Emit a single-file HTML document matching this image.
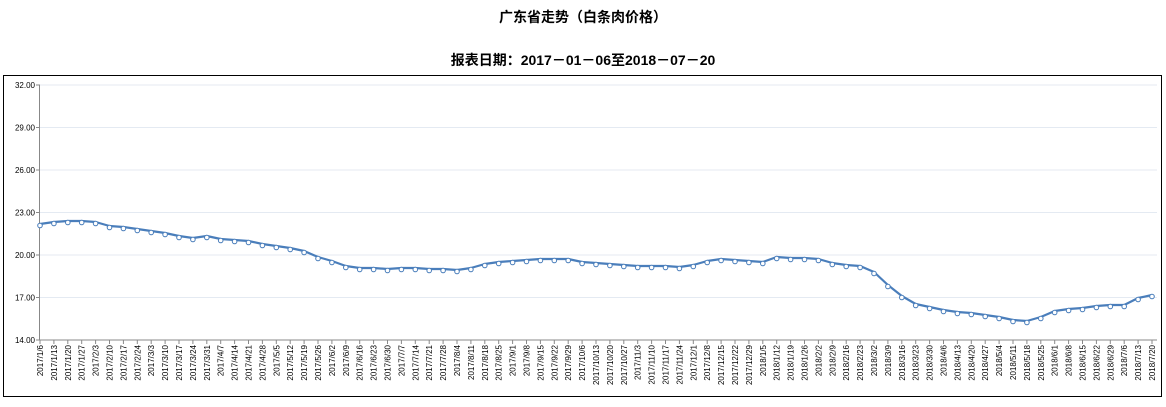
<!DOCTYPE html>
<html><head><meta charset="utf-8"><style>
body{margin:0;background:#fff;width:1166px;height:402px;overflow:hidden;font-family:"Liberation Sans","Noto Sans CJK SC",sans-serif}
</style></head><body>
<svg width="1166" height="402" xmlns="http://www.w3.org/2000/svg" id="s">
<text x="583" y="22" text-anchor="middle" font-size="14" font-weight="bold" font-family="Liberation Sans,Noto Sans CJK SC,sans-serif">广东省走势（白条肉价格）</text>
<text x="583" y="65" text-anchor="middle" font-size="14" font-weight="bold" font-family="Liberation Sans,Noto Sans CJK SC,sans-serif">报表日期：2017－01－06至2018－07－20</text>
<rect x="3.5" y="75.5" width="1158" height="321" fill="none" stroke="#000" stroke-width="1"/>
<g id="g"></g>
</svg>
<script>
var g=document.getElementById('g'),h='';
var x0=40,x1=1152,yT=85,yB=340;
for(var i=0;i<7;i++){var y=yT+i*(yB-yT)/6,v=32-3*i;
 if(i<6)h+='<line x1="40" x2="1157" y1="'+y+'" y2="'+y+'" stroke="#e4eaf2"/>';
 h+='<text x="35" y="'+(y+3)+'" font-size="8" text-anchor="end" fill="#000">'+v.toFixed(2)+'</text>';
 h+='<line x1="36" x2="40" y1="'+y+'" y2="'+y+'" stroke="#888"/>';}
h+='<line x1="39.5" x2="39.5" y1="85" y2="340" stroke="#888"/><line x1="39" x2="1157" y1="340" y2="340" stroke="#888"/>';
var ys=[224,222,221,221,222,226,227,229,231,233,236,238,236,239,240,241,244,246,248,251,257,261,266,268,268,269,268,268,269,269,270,268,264,262,261,260,259,259,259,262,263,264,265,266,266,266,267,265,261,259,260,261,
262,257,258,258,259,263,265,266,272,285,296,304,307,310,312,313,315,317,320,321,317,311,309,308,306,305,305,298,295];
var n=ys.length,st=(x1-x0)/(n-1),d=new Date(2017,0,6),pts=[];
for(var i=0;i<n;i++){var x=x0+i*st;pts.push(x.toFixed(1)+','+ys[i]);
 h+='<line x1="'+x+'" x2="'+x+'" y1="340" y2="344" stroke="#888"/>';
 var lb=d.getFullYear()+'/'+(d.getMonth()+1)+'/'+d.getDate();
 h+='<text transform="translate('+(x+3)+',345) rotate(-90)" font-size="8" text-anchor="end">'+lb+'</text>';
 d.setDate(d.getDate()+7);}
h+='<polyline points="'+pts.join(' ')+'" fill="none" stroke="#4a7ebb" stroke-width="2.2" stroke-linejoin="round"/>';
for(var i=0;i<n;i++)h+='<circle cx="'+(x0+i*st)+'" cy="'+(ys[i]+1.5)+'" r="2.3" fill="#fff" stroke="#4a7ebb" stroke-width="1"/>';
g.innerHTML=h;
</script>
</body></html>
